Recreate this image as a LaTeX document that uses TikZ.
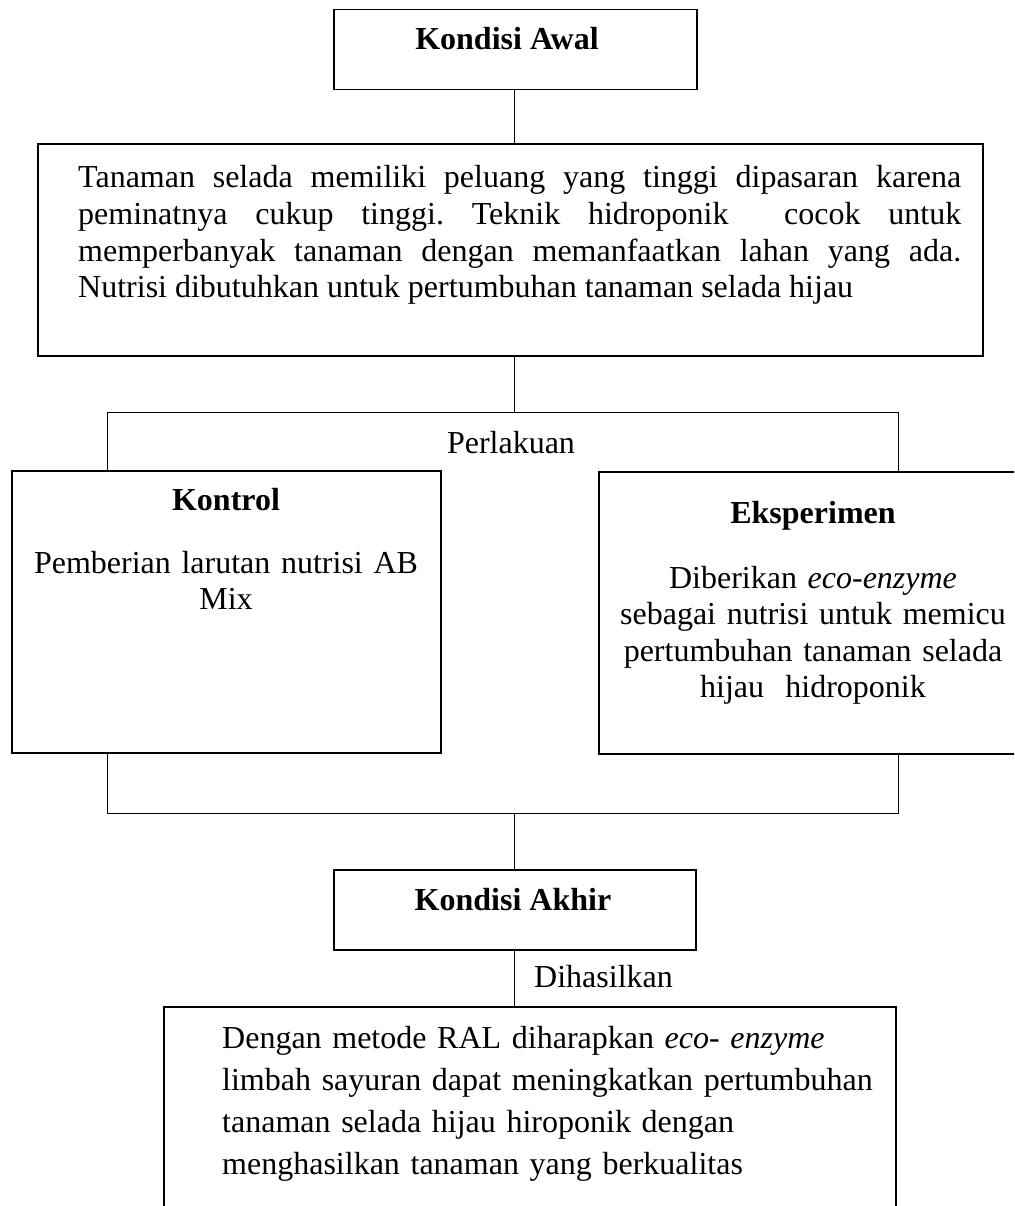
\documentclass[tikz,border=0pt]{standalone}
\usepackage{fontspec}
\setmainfont{Liberation Serif}
\frenchspacing
\begin{document}
\begin{tikzpicture}[x=1pt,y=-1pt,
  box/.style={draw, line width=1.6pt, rectangle, inner sep=0pt},
  conn/.style={line width=0.9pt},
  txt/.style={inner sep=0pt, font=\fontsize{32}{36.6}\selectfont},
  head/.style={txt, font=\fontsize{32}{36.6}\selectfont\bfseries}]
\clip (0,0) rectangle (1014,1206);
\fill[white] (0,0) rectangle (1014,1206);
% boxes
\node[box, minimum width=363pt, minimum height=80pt] (awal) at (515.5,49.5) {};
\node[box, minimum width=945pt, minimum height=212pt] (big) at (510.5,250) {};
\node[box, minimum width=429pt, minimum height=282pt] (kontrol) at (226.5,612) {};
\node[box, minimum width=428pt, minimum height=282pt] (eksp) at (813,613) {};
\node[box, minimum width=362pt, minimum height=80pt] (akhir) at (515,910) {};
\node[box, minimum width=732pt, minimum height=240pt] (hasil) at (530,1127) {};
% texts
\node[head, anchor=base] (tawal) at (507,50) {Kondisi Awal};
\node[txt, anchor=base west, text width=883pt, align=justify] (tbig) at (78,188)
  {\frenchspacing Tanaman selada memiliki peluang yang tinggi dipasaran karena\linebreak
   peminatnya cukup tinggi. Teknik hidroponik\ \ cocok untuk\linebreak
   memperbanyak tanaman dengan memanfaatkan lahan yang ada.\linebreak
   Nutrisi dibutuhkan untuk pertumbuhan tanaman selada hijau};
\node[txt, anchor=base] (tperl) at (511,453) {Perlakuan};
\node[head, anchor=base] (tkon) at (226,510) {Kontrol};
\node[txt, anchor=base, text width=410pt, align=center] (tkonb) at (226,573)
  {Pemberian larutan nutrisi AB\\Mix};
\node[head, anchor=base] (teks) at (813,523) {Eksperimen};
\node[txt, anchor=base, text width=410pt, align=center] (teksb) at (813,588)
  {Diberikan \textit{eco-enzyme}\\sebagai nutrisi untuk memicu\\pertumbuhan tanaman selada\\hijau\ \ hidroponik};
\node[head, anchor=base] (takhir) at (513,910) {Kondisi Akhir};
\node[txt, anchor=base west] (tdih) at (534,987) {Dihasilkan};
\node[txt, anchor=base west, text width=670pt, align=left,
      font=\fontsize{32}{42.3}\selectfont] (thasil) at (222,1048)
  {Dengan metode RAL diharapkan \textit{eco- enzyme}\\limbah sayuran dapat meningkatkan pertumbuhan\\tanaman selada hijau hiroponik dengan\\menghasilkan tanaman yang berkualitas};
% connector coordinates
\coordinate (mx) at (514,0);
\coordinate (pl) at (107,412);
\coordinate (pr) at (898,412);
\coordinate (pc) at (514,412);
\coordinate (ql) at (107,813);
\coordinate (qr) at (898,813);
\coordinate (qc) at (514,813);
% connectors
\draw[conn] (awal.south -| mx) -- (big.north -| mx);
\draw[conn] (big.south -| mx) -- (pc);
\draw[conn] (kontrol.north -| pl) -- (pl) -- (pr) -- (eksp.north -| pr);
\draw[conn] (kontrol.south -| ql) -- (ql) -- (qr) -- (eksp.south -| qr);
\draw[conn] (qc) -- (akhir.north -| mx);
\draw[conn] (akhir.south -| mx) -- (hasil.north -| mx);
\end{tikzpicture}
\end{document}
